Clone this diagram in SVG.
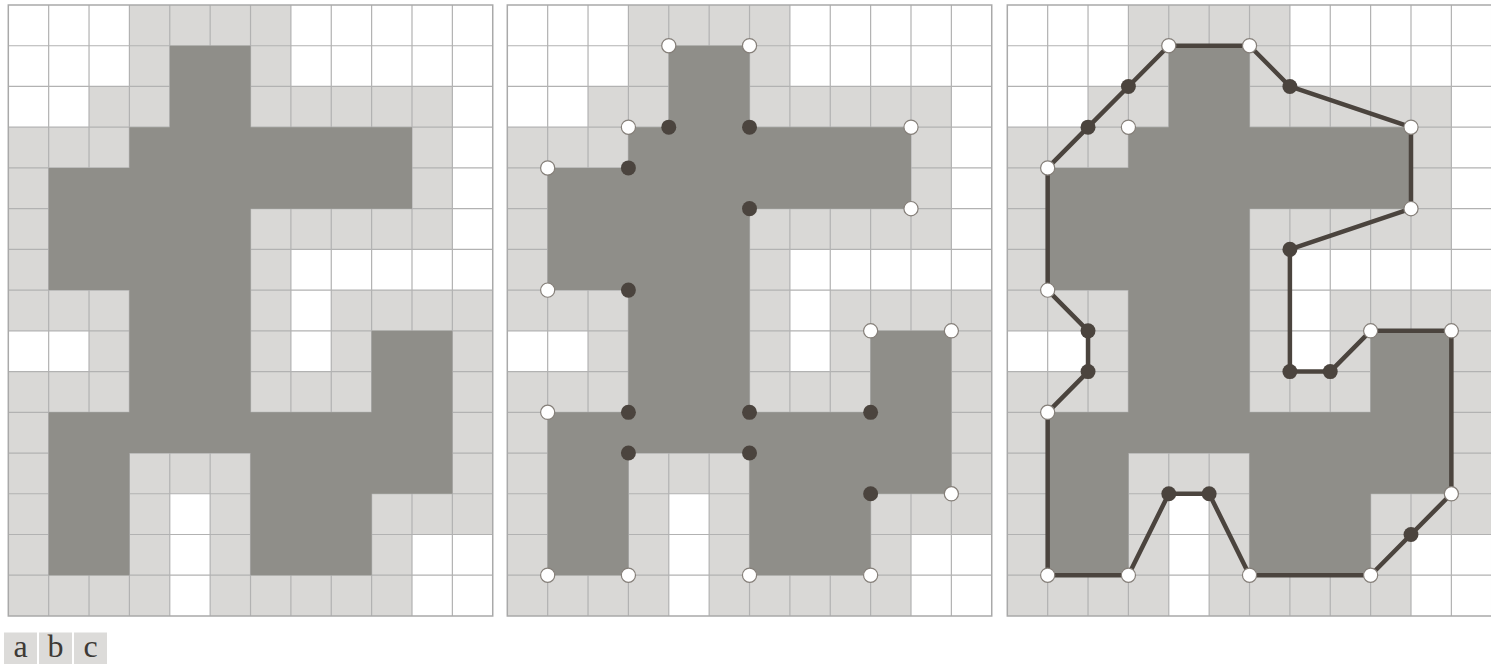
<svg xmlns="http://www.w3.org/2000/svg" xmlns:xlink="http://www.w3.org/1999/xlink" width="1491" height="664" viewBox="0 0 1491 664">
<style>
.lt{fill:#d9d8d6}
.wh{fill:#ffffff}
.dk{fill:#8f8e89}
.gl{fill:none;stroke:#b2b2b2;stroke-width:1.2;vector-effect:non-scaling-stroke}
.bd{fill:none;stroke:#a9a9a9;stroke-width:1.5;vector-effect:non-scaling-stroke}
.wd{fill:#ffffff;stroke:#857f79;stroke-width:1.2;vector-effect:non-scaling-stroke}
.dd{fill:#4b443e}
.ol{fill:none;stroke:#4b443e;stroke-width:4.5;stroke-linejoin:round;vector-effect:non-scaling-stroke}
.lb{fill:#dcdbd9}
.lt2{font-family:"Liberation Serif","Times New Roman",serif;font-size:32px;fill:#3e3a36;text-anchor:middle}
</style>
<defs>
<g id="base">
<rect class="lt" x="0" y="0" width="12" height="15"/>
<path class="wh" d="M0,0H3V2H2V3H0Z M7,0H12V7H8V9H7V6H11V2H7Z M0,8H2V9H0Z M4,12H5V15H4Z M10,13H12V15H10Z"/>
<path class="gl" d="M1,0V15M2,0V15M3,0V15M4,0V15M5,0V15M6,0V15M7,0V15M8,0V15M9,0V15M10,0V15M11,0V15M0,1H12M0,2H12M0,3H12M0,4H12M0,5H12M0,6H12M0,7H12M0,8H12M0,9H12M0,10H12M0,11H12M0,12H12M0,13H12M0,14H12"/>
<path class="dk" d="M4,1H6V3H10V5H6V10H9V8H11V12H9V14H6V11H3V14H1V10H3V7H1V4H3V3H4Z"/>
<rect class="bd" x="0" y="0" width="12" height="15"/>
</g>
</defs>
<g id="panel-a" transform="translate(8.3,5) scale(40.37,40.73)">
<use xlink:href="#base" href="#base"/>
</g>
<g id="panel-b" transform="translate(507.3,5) scale(40.37,40.73)">
<use xlink:href="#base" href="#base"/>
<g id="b-dots-open">
<circle class="wd" cx="4" cy="1" r="0.175"/><circle class="wd" cx="6" cy="1" r="0.175"/>
<circle class="wd" cx="3" cy="3" r="0.175"/><circle class="wd" cx="10" cy="3" r="0.175"/>
<circle class="wd" cx="1" cy="4" r="0.175"/><circle class="wd" cx="10" cy="5" r="0.175"/>
<circle class="wd" cx="1" cy="7" r="0.175"/><circle class="wd" cx="9" cy="8" r="0.175"/>
<circle class="wd" cx="11" cy="8" r="0.175"/><circle class="wd" cx="1" cy="10" r="0.175"/>
<circle class="wd" cx="11" cy="12" r="0.175"/><circle class="wd" cx="1" cy="14" r="0.175"/>
<circle class="wd" cx="3" cy="14" r="0.175"/><circle class="wd" cx="6" cy="14" r="0.175"/>
<circle class="wd" cx="9" cy="14" r="0.175"/>
</g>
<g id="b-dots-filled">
<circle class="dd" cx="4" cy="3" r="0.185"/><circle class="dd" cx="6" cy="3" r="0.185"/>
<circle class="dd" cx="3" cy="4" r="0.185"/><circle class="dd" cx="6" cy="5" r="0.185"/>
<circle class="dd" cx="3" cy="7" r="0.185"/><circle class="dd" cx="3" cy="10" r="0.185"/>
<circle class="dd" cx="6" cy="10" r="0.185"/><circle class="dd" cx="9" cy="10" r="0.185"/>
<circle class="dd" cx="3" cy="11" r="0.185"/><circle class="dd" cx="6" cy="11" r="0.185"/>
<circle class="dd" cx="9" cy="12" r="0.185"/>
</g>
</g>
<g id="panel-c" transform="translate(1007.3,5) scale(40.37,40.73)">
<use xlink:href="#base" href="#base"/>
<g id="connectors">
<polygon class="ol" points="4,1 6,1 7,2 10,3 10,5 7,6 7,9 8,9 9,8 11,8 11,12 10,13 9,14 6,14 5,12 4,12 3,14 1,14 1,10 2,9 2,8 1,7 1,4 2,3 3,2"/>
</g>
<g id="c-dots-filled">
<circle class="dd" cx="7" cy="2" r="0.185"/><circle class="dd" cx="7" cy="6" r="0.185"/>
<circle class="dd" cx="7" cy="9" r="0.185"/><circle class="dd" cx="8" cy="9" r="0.185"/>
<circle class="dd" cx="10" cy="13" r="0.185"/><circle class="dd" cx="5" cy="12" r="0.185"/>
<circle class="dd" cx="4" cy="12" r="0.185"/><circle class="dd" cx="2" cy="9" r="0.185"/>
<circle class="dd" cx="2" cy="8" r="0.185"/><circle class="dd" cx="2" cy="3" r="0.185"/>
<circle class="dd" cx="3" cy="2" r="0.185"/>
</g>
<g id="c-dots-open">
<circle class="wd" cx="4" cy="1" r="0.175"/><circle class="wd" cx="6" cy="1" r="0.175"/>
<circle class="wd" cx="10" cy="3" r="0.175"/><circle class="wd" cx="10" cy="5" r="0.175"/>
<circle class="wd" cx="9" cy="8" r="0.175"/><circle class="wd" cx="11" cy="8" r="0.175"/>
<circle class="wd" cx="11" cy="12" r="0.175"/><circle class="wd" cx="9" cy="14" r="0.175"/>
<circle class="wd" cx="6" cy="14" r="0.175"/><circle class="wd" cx="3" cy="14" r="0.175"/>
<circle class="wd" cx="1" cy="14" r="0.175"/><circle class="wd" cx="1" cy="10" r="0.175"/>
<circle class="wd" cx="1" cy="7" r="0.175"/><circle class="wd" cx="1" cy="4" r="0.175"/>
<circle class="wd" cx="3" cy="3" r="0.175"/>
</g>
</g>
<g id="labels">
<g id="label-a"><rect class="lb" x="4" y="632.5" width="33" height="31.5"/><text class="lt2" x="20.5" y="656.5">a</text></g>
<g id="label-b"><rect class="lb" x="39" y="632.5" width="33" height="31.5"/><text class="lt2" x="55.5" y="656.5">b</text></g>
<g id="label-c"><rect class="lb" x="74" y="632.5" width="33" height="31.5"/><text class="lt2" x="90.5" y="656.5">c</text></g>
</g>
</svg>
